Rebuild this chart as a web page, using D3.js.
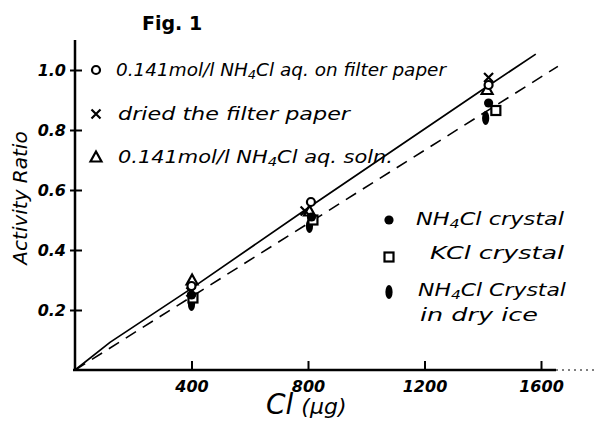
<!DOCTYPE html>
<html>
<head>
<meta charset="utf-8">
<script src="https://cdn.jsdelivr.net/npm/d3@7/dist/d3.min.js"></script>
<style>
  html, body { margin: 0; padding: 0; background: #fff; }
  svg { display: block; }
  text { font-family: "DejaVu Sans", "Liberation Sans", sans-serif; fill: #000; }
</style>
</head>
<body>
<svg id="chart" width="594" height="435"></svg>
<script>
// Cl amount (μg) on the x axis, activity ratio on the y axis
const xTicks = [400, 800, 1200, 1600];
const yTicks = [0.2, 0.4, 0.6, 0.8, 1.0];

// Measured points per sample type: [Cl μg, activity ratio]
const aqFilterPaper = [[400, 0.28], [810, 0.56], [1420, 0.95]];
const driedPaper    = [[398, 0.26], [790, 0.53], [1420, 0.975]];
const aqSolution    = [[402, 0.30], [805, 0.53], [1415, 0.935]];
const nh4clCrystal  = [[400, 0.25], [812, 0.51], [1420, 0.89]];
const kclCrystal    = [[405, 0.24], [817, 0.50], [1445, 0.865]];
const dryIceCrystal = [[400, 0.22], [805, 0.48], [1410, 0.84]];

// Fitted curves
const solidFit  = [[0, 0], [120, 0.092], [400, 0.272], [800, 0.54], [1400, 0.935], [1582, 1.053]];
const dashedFit = [[0, 0], [1658, 1.012]];

const svg = d3.select("#chart");
const x = d3.scaleLinear().domain([0, 1600]).range([75, 541]);
const y = d3.scaleLinear().domain([0, 1]).range([370, 70]);

// Title
svg.append("text").attr("x", 142).attr("y", 30)
  .attr("font-size", 19).attr("font-weight", "bold")
  .text("Fig. 1");

// Axes
const xAxis = d3.axisBottom(x).tickValues(xTicks).tickSize(-9).tickPadding(11)
  .tickFormat(d3.format("d"));
const gx = svg.append("g").attr("transform", `translate(0,${y(0)})`).call(xAxis);
gx.select(".domain").remove();
gx.selectAll(".tick line").attr("stroke", "#000").attr("stroke-width", 2);
gx.selectAll(".tick text").attr("font-size", 16).attr("font-weight", "bold")
  .attr("font-style", "italic");

svg.append("line").attr("x1", 73).attr("x2", 556).attr("y1", y(0)).attr("y2", y(0))
  .attr("stroke", "#000").attr("stroke-width", 2.5);
svg.append("line").attr("x1", 556).attr("x2", 594).attr("y1", y(0)).attr("y2", y(0))
  .attr("stroke", "#000").attr("stroke-width", 1).attr("stroke-dasharray", "2,4");

const yAxis = d3.axisLeft(y).tickValues(yTicks).tickSize(5).tickPadding(4)
  .tickFormat(d3.format(".1f"));
const gy = svg.append("g").attr("transform", `translate(${x(0)},0)`).call(yAxis);
gy.select(".domain").remove();
gy.selectAll(".tick line").attr("x2", 7).attr("x1", -5)
  .attr("stroke", "#000").attr("stroke-width", 2);
gy.selectAll(".tick text").attr("font-size", 16).attr("font-weight", "bold")
  .attr("font-style", "italic").attr("x", -9);

svg.append("line").attr("x1", x(0)).attr("x2", x(0)).attr("y1", 40).attr("y2", y(0) + 1)
  .attr("stroke", "#000").attr("stroke-width", 2.5);

// Axis titles
svg.append("text")
  .attr("transform", `translate(27,${198}) rotate(-90)`)
  .attr("text-anchor", "middle").attr("font-size", 20).attr("font-style", "italic")
  .text("Activity Ratio");

const xt = svg.append("text").attr("x", 266).attr("y", 414)
  .attr("font-style", "italic");
xt.append("tspan").attr("font-size", 28).text("Cl");
xt.append("tspan").attr("font-size", 22).attr("dx", 8).text("(μg)");

// Fitted lines
const line = d3.line().x(d => x(d[0])).y(d => y(d[1]));
svg.append("path").datum(solidFit).attr("d", line)
  .attr("fill", "none").attr("stroke", "#000").attr("stroke-width", 1.7);
svg.append("path").datum(dashedFit).attr("d", line)
  .attr("fill", "none").attr("stroke", "#000").attr("stroke-width", 1.6)
  .attr("stroke-dasharray", "12,8");

// Marker drawers
const markers = {
  openCircle: (g) => g.append("circle").attr("r", 4).attr("fill", "#fff")
    .attr("stroke", "#000").attr("stroke-width", 2.2),
  cross: (g) => g.append("path").attr("d", "M-4.5,-4.5L4.5,4.5M-4.5,4.5L4.5,-4.5")
    .attr("stroke", "#000").attr("stroke-width", 2.2),
  triangle: (g) => g.append("path").attr("d", "M0,-5.5L5.5,4.5L-5.5,4.5Z")
    .attr("fill", "none").attr("stroke", "#000").attr("stroke-width", 2.2),
  filledCircle: (g) => g.append("circle").attr("r", 4.6).attr("fill", "#000"),
  square: (g) => g.append("rect").attr("x", -4.5).attr("y", -4.5).attr("width", 9).attr("height", 9)
    .attr("fill", "#fff").attr("stroke", "#000").attr("stroke-width", 2.2),
  oval: (g) => g.append("ellipse").attr("rx", 3.6).attr("ry", 7).attr("fill", "#000")
};

const series = [
  { data: dryIceCrystal, mark: "oval" },
  { data: kclCrystal, mark: "square" },
  { data: nh4clCrystal, mark: "filledCircle" },
  { data: aqSolution, mark: "triangle" },
  { data: driedPaper, mark: "cross" },
  { data: aqFilterPaper, mark: "openCircle" }
];
series.forEach(s => {
  s.data.forEach(d => {
    const g = svg.append("g").attr("transform", `translate(${x(d[0])},${y(d[1])})`);
    markers[s.mark](g);
  });
});

// Legends
function labelText(xp, yp, parts, len) {
  const t = svg.append("text").attr("x", xp).attr("y", yp)
    .attr("font-size", 17).attr("font-style", "italic");
  parts.forEach(p => {
    const ts = t.append("tspan").text(p.t);
    if (p.sub) ts.attr("font-size", 12).attr("dy", 3);
    if (p.up) ts.attr("dy", -3);
  });
  if (len) t.attr("textLength", len).attr("lengthAdjust", "spacingAndGlyphs");
  return t;
}

const legendTop = [
  { mark: "openCircle", y: 70, x: 116, len: 330,
    parts: [{ t: "0.141mol/l NH" }, { t: "4", sub: true }, { t: "Cl aq. on filter paper", up: true }] },
  { mark: "cross", y: 114, x: 118, len: 232, parts: [{ t: "dried the filter paper" }] },
  { mark: "triangle", y: 157, x: 118, len: 275,
    parts: [{ t: "0.141mol/l NH" }, { t: "4", sub: true }, { t: "Cl aq. soln.", up: true }] }
];
legendTop.forEach(l => {
  markers[l.mark](svg.append("g").attr("transform", `translate(96,${l.y})`));
  labelText(l.x, l.y + 6, l.parts, l.len);
});

const legendRight = [
  { mark: "filledCircle", my: 220, x: 416, y: 225, len: 148,
    parts: [{ t: "NH" }, { t: "4", sub: true }, { t: "Cl crystal", up: true }] },
  { mark: "square", my: 257, x: 430, y: 259, len: 134, parts: [{ t: "KCl crystal" }] },
  { mark: "oval", my: 292, x: 418, y: 296, len: 148,
    parts: [{ t: "NH" }, { t: "4", sub: true }, { t: "Cl Crystal", up: true }] }
];
legendRight.forEach(l => {
  markers[l.mark](svg.append("g").attr("transform", `translate(389,${l.my})`));
  labelText(l.x, l.y, l.parts, l.len);
});
labelText(420, 321, [{ t: "in dry ice" }], 118);
</script>
</body>
</html>
